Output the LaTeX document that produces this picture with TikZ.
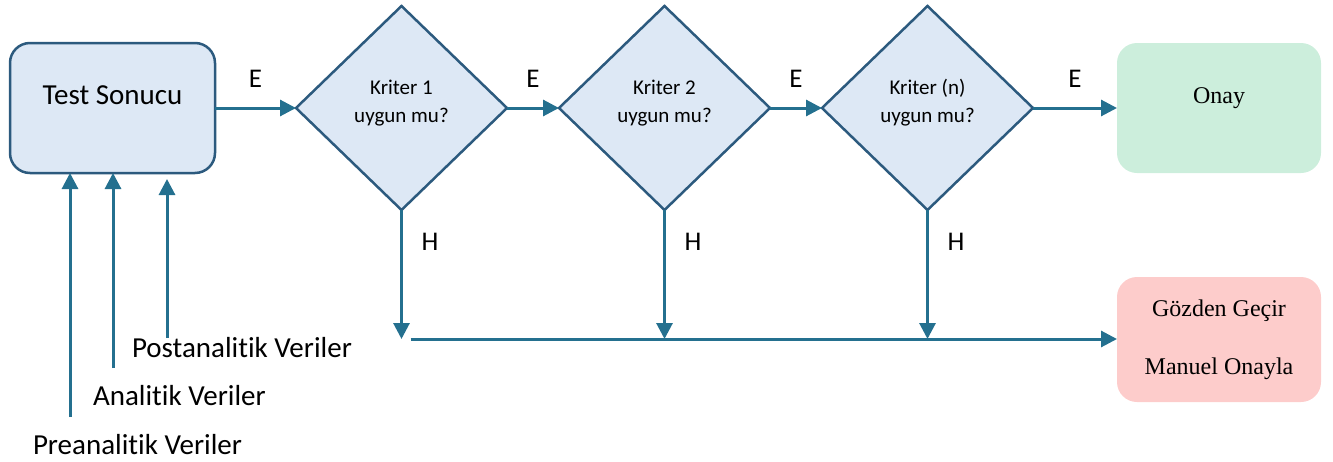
\documentclass[tikz,border=0pt]{standalone}
\usepackage{fontspec}
\setmainfont{Carlito}[Ligatures=NoCommon]
\newfontfamily\tnr{Liberation Serif}
\usetikzlibrary{positioning,shapes.geometric,arrows.meta}
\definecolor{boxfill}{HTML}{DDE8F5}
\definecolor{boxline}{HTML}{2C5A7E}
\definecolor{arrcol}{HTML}{24708F}
\definecolor{okfill}{HTML}{CCEEDC}
\definecolor{revfill}{HTML}{FDCCCB}
\begin{document}
\begin{tikzpicture}[x=1pt, y=-1pt, node distance=50pt, outer sep=0pt,
		box/.style = {draw=boxline, line width=2.5pt, fill=boxfill, rounded corners=20pt, minimum width=205pt, minimum height=130pt, font=\fontsize{29}{35}\selectfont, text height=22pt, text depth=29pt},
		crit/.style = {draw=boxline, line width=2.5pt, fill=boxfill, diamond, minimum width=211pt, minimum height=204pt, inner sep=0pt, align=center, font=\fontsize{21}{28}\selectfont, text height=44pt, text depth=16pt},
		okbox/.style = {fill=okfill, rounded corners=20pt, minimum width=204pt, minimum height=130pt, font=\tnr\fontsize{24}{29}\selectfont, text height=17pt, text depth=27pt},
		revbox/.style = {fill=revfill, rounded corners=20pt, minimum width=204pt, minimum height=125pt, align=center, font=\tnr\fontsize{24}{58}\selectfont},
		arr/.style = {draw=arrcol, line width=3pt, -{Triangle[length=16pt,width=16pt]}},
		lbl/.style = {inner sep=0pt, font=\fontsize{27}{30}\selectfont},
		src/.style = {inner sep=0pt, anchor=west, font=\fontsize{29}{34}\selectfont}]
			\useasboundingbox (0,0) rectangle (1333,461);
			\node[box] (test) at (112.5,108) {Test Sonucu};
			\node[crit] (k1) [right=81pt of test] {Kriter 1\\uygun mu?};
			\node[crit] (k2) [right=52pt of k1] {Kriter 2\\uygun mu?};
			\node[crit] (kn) [right=52pt of k2] {Kriter (n)\\uygun mu?};
			\node[okbox] (onay) [right=84pt of kn] {Onay};
			\node[revbox] (gozden) [below=104pt of onay] {Gözden Geçir\\Manuel Onayla};
			\coordinate[below=129pt of k1.south] (h1);
			\coordinate[below=129pt of k2.south] (h2);
			\coordinate[below=129pt of kn.south] (hn);
			\coordinate (pre) at (70,417);
			\coordinate (ana) at (113,368);
			\coordinate (post) at (167,338);
			\node[src] (prelbl) at (33,445) {Preanalitik Veriler};
			\node[src] (analbl) at (93,396) {Analitik Veriler};
			\node[src] (postlbl) at (132,348) {Postanalitik Veriler};
			\draw[arr] (test.east) -- node[lbl, above=21pt] (e1) {E} (k1.west);
			\draw[arr] (k1.east) -- node[lbl, above=21pt] (e2) {E} (k2.west);
			\draw[arr] (k2.east) -- node[lbl, above=21pt] (e3) {E} (kn.west);
			\draw[arr] (kn.east) -- node[lbl, above=21pt] (e4) {E} (onay.west);
			\draw[arr] ([xshift=9pt]h1) -- (h1 -| gozden.west);
			\draw[arr] (k1.south) -- node[lbl, pos=0.25, right=20pt] (n1) {H} (h1);
			\draw[arr] (k2.south) -- node[lbl, pos=0.25, right=20pt] (n2) {H} (h2);
			\draw[arr] (kn.south) -- node[lbl, pos=0.25, right=20pt] (n3) {H} (hn);
			\draw[arr] (pre) -- (pre |- test.south);
			\draw[arr] (ana) -- (ana |- test.south);
			\draw[arr] (post) -- ([yshift=-6pt]post |- test.south);
		\end{tikzpicture}
\end{document}
